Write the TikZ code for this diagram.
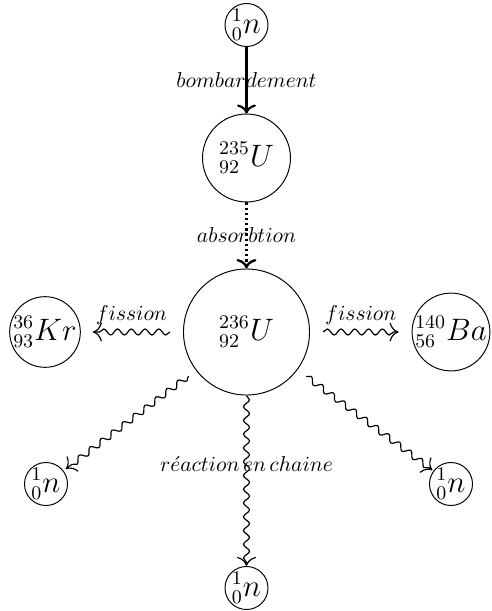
\documentclass[tikz,border=0pt]{standalone}
\usetikzlibrary{decorations.pathmorphing,calc,arrows.meta}
\begin{document}
\begin{tikzpicture}[x=0.465pt,y=-0.465pt,
  atom/.style={circle,draw,line width=0.45pt,inner sep=0pt,font=\fontsize{13.3}{16}\selectfont},
  tip/.style={-{To[scale=1.1]}},
  wavy/.style={-{To[scale=1.5]},line width=0.55pt,decorate,decoration={snake,amplitude=1.4pt,segment length=6.4pt,post length=1.5pt}},
  lab/.style={font=\normalsize}]
\useasboundingbox (0,0) rectangle (492,611);
\node[atom,minimum size=20pt] (n0) at (246.5,25) {$^{1}_{0}n$};
\node[atom,minimum size=40.9pt] (U235) at (246.5,158) {$^{235}_{92}U$};
\node[atom,minimum size=58.6pt] (U236) at (246.5,332) {$^{236}_{92}U$};
\node[atom,minimum size=32.6pt] (Kr) at (45,332) {$^{36}_{93}Kr$};
\node[atom,minimum size=35.3pt] (Ba) at (451,332) {$^{140}_{56}Ba$};
\node[atom,minimum size=20pt] (nl) at (46,484) {$^{1}_{0}n$};
\node[atom,minimum size=20pt] (nr) at (451,484) {$^{1}_{0}n$};
\node[atom,minimum size=20pt] (nb) at (246.5,588) {$^{1}_{0}n$};
% connector ends
\coordinate (kA) at ($(U236.west)+(-13,0)$);
\coordinate (kB) at ($(Kr.east)+(12,0)$);
\coordinate (bA) at ($(U236.east)+(13,0)$);
\coordinate (bB) at ($(Ba.west)+(-13,0)$);
\coordinate (lA) at ($(U236)!33.9pt!(nl)$);
\coordinate (lB) at ($(nl)!11.5pt!(U236)$);
\coordinate (rA) at ($(U236)!34.6pt!(nr)$);
\coordinate (rB) at ($(nr)!10.8pt!(U236)$);
% connectors
\draw[tip,line width=1pt] (n0) -- node[lab]{$bombardement$} (U235);
\draw[tip,line width=1.1pt,dash pattern=on 1.1pt off 1.3pt] (U235) -- node[lab]{$absorbtion$} (U236);
\draw[wavy] (kA) -- node[lab,above,pos=0.5]{$fission$} (kB);
\draw[wavy] (bA) -- node[lab,above,pos=0.5]{$fission$} (bB);
\draw[wavy] (lA) -- (lB);
\draw[wavy] (rA) -- (rB);
\draw[wavy] (U236) -- node[lab,pos=0.4]{$r\acute{e}action\,en\,chaine$} (nb);
\end{tikzpicture}
\end{document}
